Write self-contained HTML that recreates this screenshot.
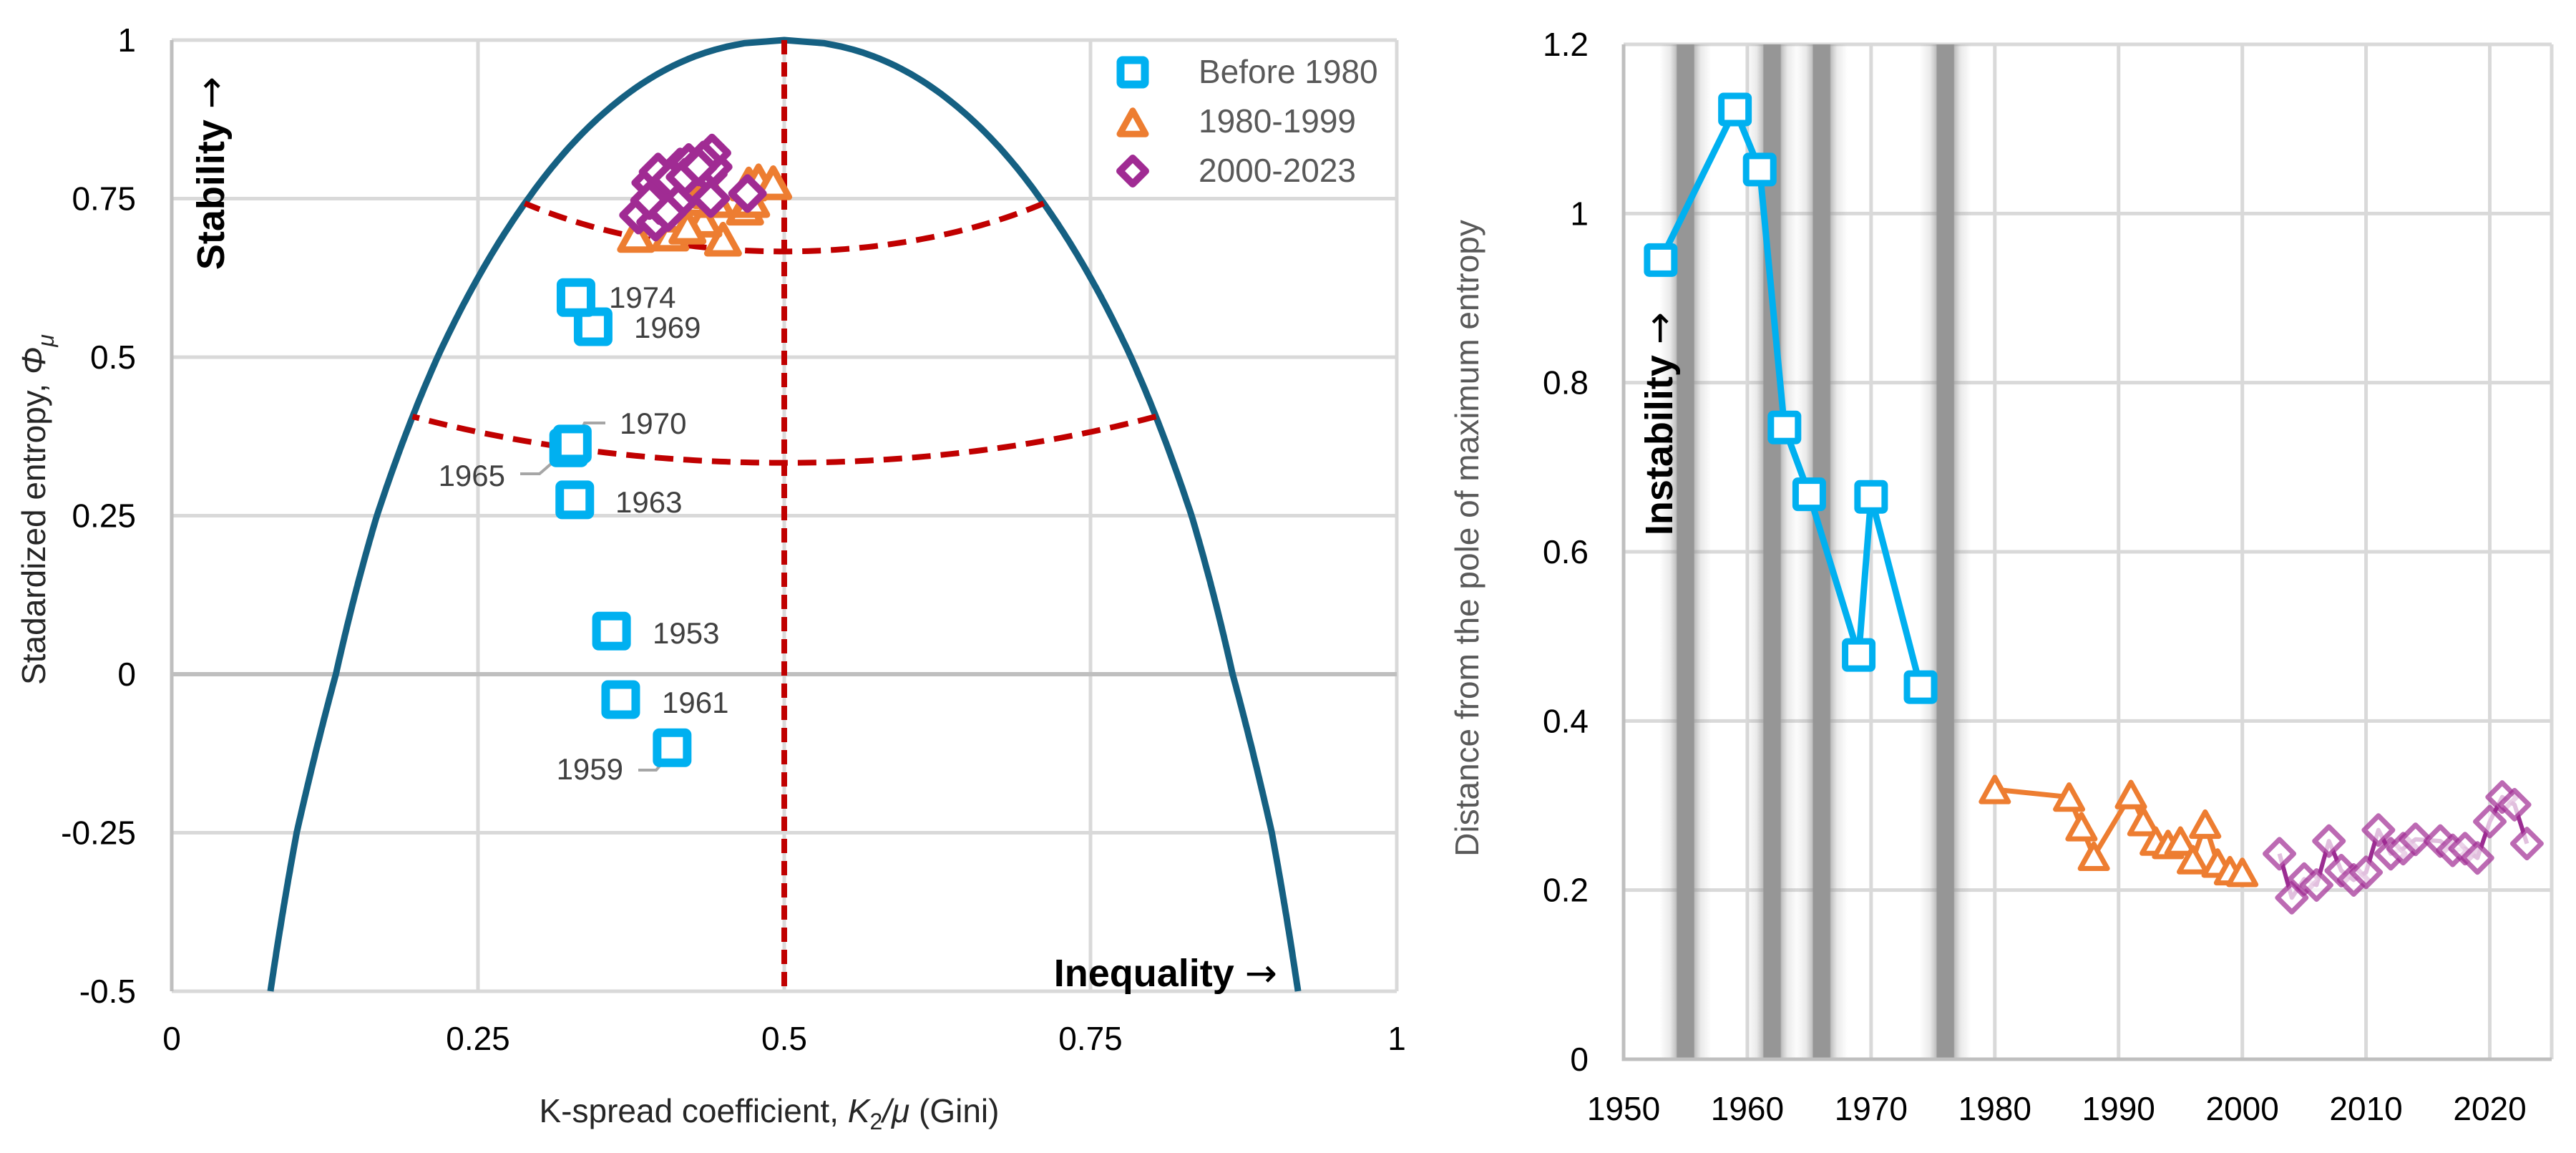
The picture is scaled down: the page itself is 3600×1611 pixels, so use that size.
<!DOCTYPE html>
<html><head><meta charset="utf-8"><style>
html,body{margin:0;padding:0;background:#fff;}
svg{display:block;font-family:"Liberation Sans",sans-serif;}
.narrowb{font-family:"Liberation Sans Narrow","Liberation Sans",sans-serif;font-weight:bold;}
.arr{font-family:"DejaVu Sans",sans-serif;font-weight:normal;}
</style></head><body>
<svg id="chart" width="3600" height="1611" viewBox="0 0 3600 1611" xmlns="http://www.w3.org/2000/svg">
<defs>
<linearGradient id="band" x1="0" x2="1" y1="0" y2="0">
<stop offset="0" stop-color="#969696" stop-opacity="0"/>
<stop offset="0.2" stop-color="#969696" stop-opacity="0.2"/>
<stop offset="0.32" stop-color="#969696" stop-opacity="0.6"/>
<stop offset="0.34" stop-color="#969696" stop-opacity="1"/>
<stop offset="0.66" stop-color="#969696" stop-opacity="1"/>
<stop offset="0.68" stop-color="#969696" stop-opacity="0.6"/>
<stop offset="0.8" stop-color="#969696" stop-opacity="0.2"/>
<stop offset="1" stop-color="#969696" stop-opacity="0"/>
</linearGradient>
</defs>
<g id="left"></g>
<g id="right"></g>
</svg>
<script>
// ---------- data ----------
const leftXTicks=[0,0.25,0.5,0.75,1];
const leftYTicks=[1,0.75,0.5,0.25,0,-0.25,-0.5];
const leftYTickLabels=["1","0.75","0.5","0.25","0","-0.25","-0.5"];
const leftXTickLabels=["0","0.25","0.5","0.75","1"];
const boundaryG=[0.0806,0.102,0.134,0.1675,0.217,0.291,0.362,0.428];
const boundaryPhi=[-0.5,-0.25,0,0.25,0.5,0.75,0.9,0.975];
const arcRadii=[1/3,2/3];
const blueYears=[1953,1959,1961,1963,1965,1969,1970,1974];
const blueGini=[0.359,0.4085,0.3665,0.329,0.324,0.344,0.327,0.330];
const bluePhi=[0.068,-0.116,-0.040,0.275,0.357,0.548,0.363,0.594];
const orangeGini=[0.379,0.407,0.450,0.434,0.430,0.440,0.468,0.471,0.479,0.491,0.444,0.407,0.473,0.421];
const orangePhi=[0.692,0.694,0.686,0.716,0.750,0.761,0.735,0.773,0.778,0.775,0.747,0.724,0.747,0.705];
const purpleGini=[0.381,0.395,0.391,0.405,0.398,0.413,0.415,0.422,0.438,0.442,0.441,0.434,0.440,0.470,0.397,0.407,0.419,0.390,0.430,0.405];
const purplePhi=[0.724,0.713,0.775,0.761,0.739,0.744,0.800,0.807,0.789,0.800,0.822,0.811,0.750,0.758,0.792,0.780,0.784,0.747,0.800,0.728];

const rightXTicks=[1950,1960,1970,1980,1990,2000,2010,2020];
const rightYTicks=[0,0.2,0.4,0.6,0.8,1,1.2];
const rightYTickLabels=["0","0.2","0.4","0.6","0.8","1","1.2"];
const recessionYears=[1955,1962,1966,1976];
const bYears=[1953,1959,1961,1963,1965,1969,1970,1974];
const bDist=[0.945,1.123,1.052,0.747,0.668,0.478,0.665,0.44];
const oYears=[1980,1986,1987,1988,1991,1992,1993,1994,1995,1996,1997,1998,1999,2000];
const oDist=[0.319,0.31,0.275,0.24,0.313,0.281,0.258,0.254,0.258,0.236,0.278,0.232,0.223,0.221];
const pYears=[2003,2004,2005,2006,2007,2008,2009,2010,2011,2012,2013,2014,2016,2017,2018,2019,2020,2021,2022,2023];
const pDist=[0.243,0.191,0.213,0.206,0.258,0.223,0.212,0.221,0.271,0.243,0.249,0.26,0.258,0.247,0.249,0.238,0.281,0.31,0.301,0.255];

// ---------- helpers ----------
const NS="http://www.w3.org/2000/svg";
function mk(parent,tag,attrs,text){const e=document.createElementNS(NS,tag);for(const k in attrs)e.setAttribute(k,attrs[k]);if(text!==undefined)e.textContent=text;parent.appendChild(e);return e;}
const L=document.getElementById('left'), R=document.getElementById('right');

const LX0=240,LX1=1952,LYT=56,LYB=1385;
const lx=g=>LX0+g*(LX1-LX0);
const ly=p=>LYT+(1-p)/1.5*(LYB-LYT);
const RX0=2269,RX1=3566,RYT=62,RYB=1480;
const rx=y=>RX0+(y-1950)*(RX1-RX0)/75;
const ry=v=>RYB-v/1.2*(RYB-RYT);

let el;
leftXTicks.forEach((t,i)=>{
 if(i>0){el=mk(L,'line',{x1:lx(t),x2:lx(t),y1:LYT,y2:LYB,stroke:'#d9d9d9','stroke-width':5});
 }
 el=mk(L,'text',{x:lx(t),y:1467,'font-size':46,'text-anchor':'middle',fill:'#000'},leftXTickLabels[i]);
 
});
leftYTicks.forEach((t,i)=>{
 el=mk(L,'line',{x1:LX0,x2:LX1,y1:ly(t),y2:ly(t),stroke:t===0?'#bfbfbf':'#d9d9d9','stroke-width':t===0?6:5});
 
 el=mk(L,'text',{x:190,y:ly(t)+16,'font-size':46,'text-anchor':'end',fill:'#000'},leftYTickLabels[i]);
 
});
el=mk(L,'line',{x1:LX0,x2:LX0,y1:LYT,y2:LYB,stroke:'#bfbfbf','stroke-width':5});


// boundary curve: g = 0.5 - u*ratio(u), u = sqrt(1-phi)
const bu=boundaryPhi.map(p=>Math.sqrt(1-p));
const br=boundaryG.map((g,i)=>(0.5-g)/bu[i]);
const uArr=[0].concat(bu.slice().reverse()), rArr=[br[br.length-1]+0.016].concat(br.slice().reverse());
function ratioAt(u){for(let i=0;i<uArr.length-1;i++){if(u<=uArr[i+1]){const t=(u-uArr[i])/(uArr[i+1]-uArr[i]);return rArr[i]+t*(rArr[i+1]-rArr[i]);}}
 const n=uArr.length-1;return rArr[n]+(u-uArr[n])*(rArr[n]-rArr[n-1])/(uArr[n]-uArr[n-1]);}
function gAt(phi){const u=Math.sqrt(Math.max(0,1-phi));return 0.5-u*ratioAt(u);}
let d='';
for(let phi=-0.5;phi<=1.0001;phi+=0.005){d+=(d?' L':'M')+lx(gAt(Math.min(phi,1))).toFixed(1)+','+ly(Math.min(phi,1)).toFixed(1);}
for(let phi=1;phi>=-0.5001;phi-=0.005){d+=' L'+lx(1-gAt(phi)).toFixed(1)+','+ly(phi).toFixed(1);}
el=mk(L,'path',{d:d,fill:'none',stroke:'#156082','stroke-width':9,'stroke-linejoin':'round'});


arcRadii.forEach(r=>{
 let best=0,bd=1e9;
 for(let a=0;a<=Math.PI/2;a+=0.0005){const g=0.5-r*Math.sin(a),p=1-r*Math.cos(a);const diff=Math.abs(g-gAt(p));if(diff<bd){bd=diff;best=a;}}
 let s='';
 for(let a=-best;a<=best+1e-9;a+=best/60){const g=0.5-r*Math.sin(a),p=1-r*Math.cos(a);s+=(s?' L':'M')+lx(g)+','+ly(p);}
 el=mk(L,'path',{d:s,fill:'none',stroke:'#c00000','stroke-width':8,'stroke-dasharray':'26 14'});
 
});
el=mk(L,'line',{x1:lx(0.5),x2:lx(0.5),y1:LYT,y2:LYB,stroke:'#c00000','stroke-width':8,'stroke-dasharray':'20 11'});


function square(p,cx,cy,s,col,w,name){el=mk(p,'rect',{x:cx-s/2,y:cy-s/2,width:s,height:s,fill:'#fff',stroke:col,'stroke-width':w,rx:3});return el;}
function tri(p,cx,cy,s,col,w,name,op){const h=s*0.9;el=mk(p,'polygon',{points:`${cx},${cy-h/2} ${cx+s/2},${cy+h/2} ${cx-s/2},${cy+h/2}`,fill:'#fff',stroke:col,'stroke-width':w,'stroke-linejoin':'round','fill-opacity':op||1,'stroke-opacity':op||1});return el;}
function dia(p,cx,cy,s,col,w,name,op){el=mk(p,'polygon',{points:`${cx},${cy-s/2} ${cx+s/2},${cy} ${cx},${cy+s/2} ${cx-s/2},${cy}`,fill:'#fff',stroke:col,'stroke-width':w,'stroke-linejoin':'round','fill-opacity':op||1,'stroke-opacity':op||1});return el;}

orangeGini.forEach((g,i)=>tri(L,lx(g),ly(orangePhi[i]),44,'#ed7d31',9,'point-1980-1999'));
purpleGini.forEach((g,i)=>dia(L,lx(g),ly(purplePhi[i]),44,'#a02b93',10,'point-2000-2023'));

const leaders=[[[846,591],[817,591],[800,626]],[[727,662],[754,662],[791,630]],[[892,1076],[917,1076],[940,1049]]];
leaders.forEach(l=>{el=mk(L,'polyline',{points:l.map(p=>p.join(',')).join(' '),fill:'none',stroke:'#a6a6a6','stroke-width':4});});

blueGini.forEach((g,i)=>square(L,lx(g),ly(bluePhi[i]),42,'#00b0f0',12,'point-before-1980'));
const yearLabelPos={1974:[851,430,'start'],1969:[886,472,'start'],1970:[866,606,'start'],1965:[706,679,'end'],1963:[860,716,'start'],1953:[912,899,'start'],1961:[925,996,'start'],1959:[871,1089,'end']};
blueYears.forEach(y=>{const p=yearLabelPos[y];el=mk(L,'text',{x:p[0],y:p[1],'font-size':42,'text-anchor':p[2],fill:'#404040'},String(y));});

const lg=mk(L,'g',{});
square(lg,1583,101,34,'#00b0f0',11,'legend-marker-before-1980');
tri(lg,1583,171,36,'#ed7d31',9,'legend-marker-1980-1999');
dia(lg,1583,239,36,'#a02b93',10,'legend-marker-2000-2023');
[['Before 1980',116],['1980-1999',185],['2000-2023',254]].forEach(t=>{el=mk(lg,'text',{x:1675,y:t[1],'font-size':46,fill:'#595959'},t[0]);});

el=mk(L,'text',{x:0,y:0,'font-size':46,fill:'#262626','text-anchor':'middle',transform:'translate(63,712) rotate(-90)'});

el.innerHTML='Stadardized entropy, <tspan font-style="italic">Φ</tspan><tspan font-style="italic" font-size="32" dy="12">μ</tspan>';
el=mk(L,'text',{x:1075,y:1568,'font-size':46,fill:'#262626','text-anchor':'middle'});

el.innerHTML='K-spread coefficient, <tspan font-style="italic">K</tspan><tspan font-size="32" dy="10">2</tspan><tspan dy="-10" font-style="italic">/μ</tspan> (Gini)';
el=mk(L,'text',{x:0,y:0,'font-size':54,fill:'#000','text-anchor':'middle',class:'narrowb',transform:'translate(313,242) rotate(-90)'});

el.innerHTML='Stability <tspan class="arr" font-size="54">→</tspan>';
el=mk(L,'text',{x:1785,y:1378,'font-size':54,fill:'#000','text-anchor':'end',class:'narrowb'});

el.innerHTML='Inequality <tspan class="arr" font-size="54">→</tspan>';

// ----- right chart -----
rightXTicks.forEach(t=>{
 if(t>1950){el=mk(R,'line',{x1:rx(t),x2:rx(t),y1:RYT,y2:RYB,stroke:'#d9d9d9','stroke-width':5});}
 el=mk(R,'text',{x:rx(t),y:1565,'font-size':46,'text-anchor':'middle',fill:'#000'},String(t));
 
});
el=mk(R,'line',{x1:RX1,x2:RX1,y1:RYT,y2:RYB,stroke:'#d9d9d9','stroke-width':5});

rightYTicks.forEach((t,i)=>{
 if(t>0){el=mk(R,'line',{x1:RX0,x2:RX1,y1:ry(t),y2:ry(t),stroke:'#d9d9d9','stroke-width':5});}
 el=mk(R,'text',{x:2220,y:ry(t)+16,'font-size':46,'text-anchor':'end',fill:'#000'},rightYTickLabels[i]);
 
});
recessionYears.forEach(y=>{el=mk(R,'rect',{x:rx(y)-36,y:RYT,width:72,height:RYB-RYT,fill:'url(#band)'});});
el=mk(R,'polyline',{points:`${RX0},${RYT} ${RX0},${RYB} ${RX1},${RYB}`,fill:'none',stroke:'#bfbfbf','stroke-width':5});


function series(years,vals,col,w,name){
 el=mk(R,'polyline',{points:years.map((y,i)=>rx(y)+','+ry(vals[i])).join(' '),fill:'none',stroke:col,'stroke-width':w,'stroke-linejoin':'round'});
 
}
series(bYears,bDist,'#00b0f0',9,'line-before-1980');
series(oYears,oDist,'#ed7d31',7,'line-1980-1999');
series(pYears,pDist,'#9b2d92',6,'line-2000-2023');
bYears.forEach((y,i)=>square(R,rx(y),ry(bDist[i]),38,'#00b0f0',9,'point-before-1980'));
oYears.forEach((y,i)=>tri(R,rx(y),ry(oDist[i]),38,'#ed7d31',7,'point-1980-1999'));
pYears.forEach((y,i)=>dia(R,rx(y),ry(pDist[i]),40,'#a02b93',7,'point-2000-2023',0.7));

el=mk(R,'text',{x:0,y:0,'font-size':46,fill:'#595959','text-anchor':'middle',transform:'translate(2066,752) rotate(-90)'},'Distance from the pole of maximum entropy');

el=mk(R,'text',{x:0,y:0,'font-size':54,fill:'#000','text-anchor':'middle',class:'narrowb',transform:'translate(2337,592) rotate(-90)'});

el.innerHTML='Instability <tspan class="arr" font-size="54">→</tspan>';
</script>
</body></html>
